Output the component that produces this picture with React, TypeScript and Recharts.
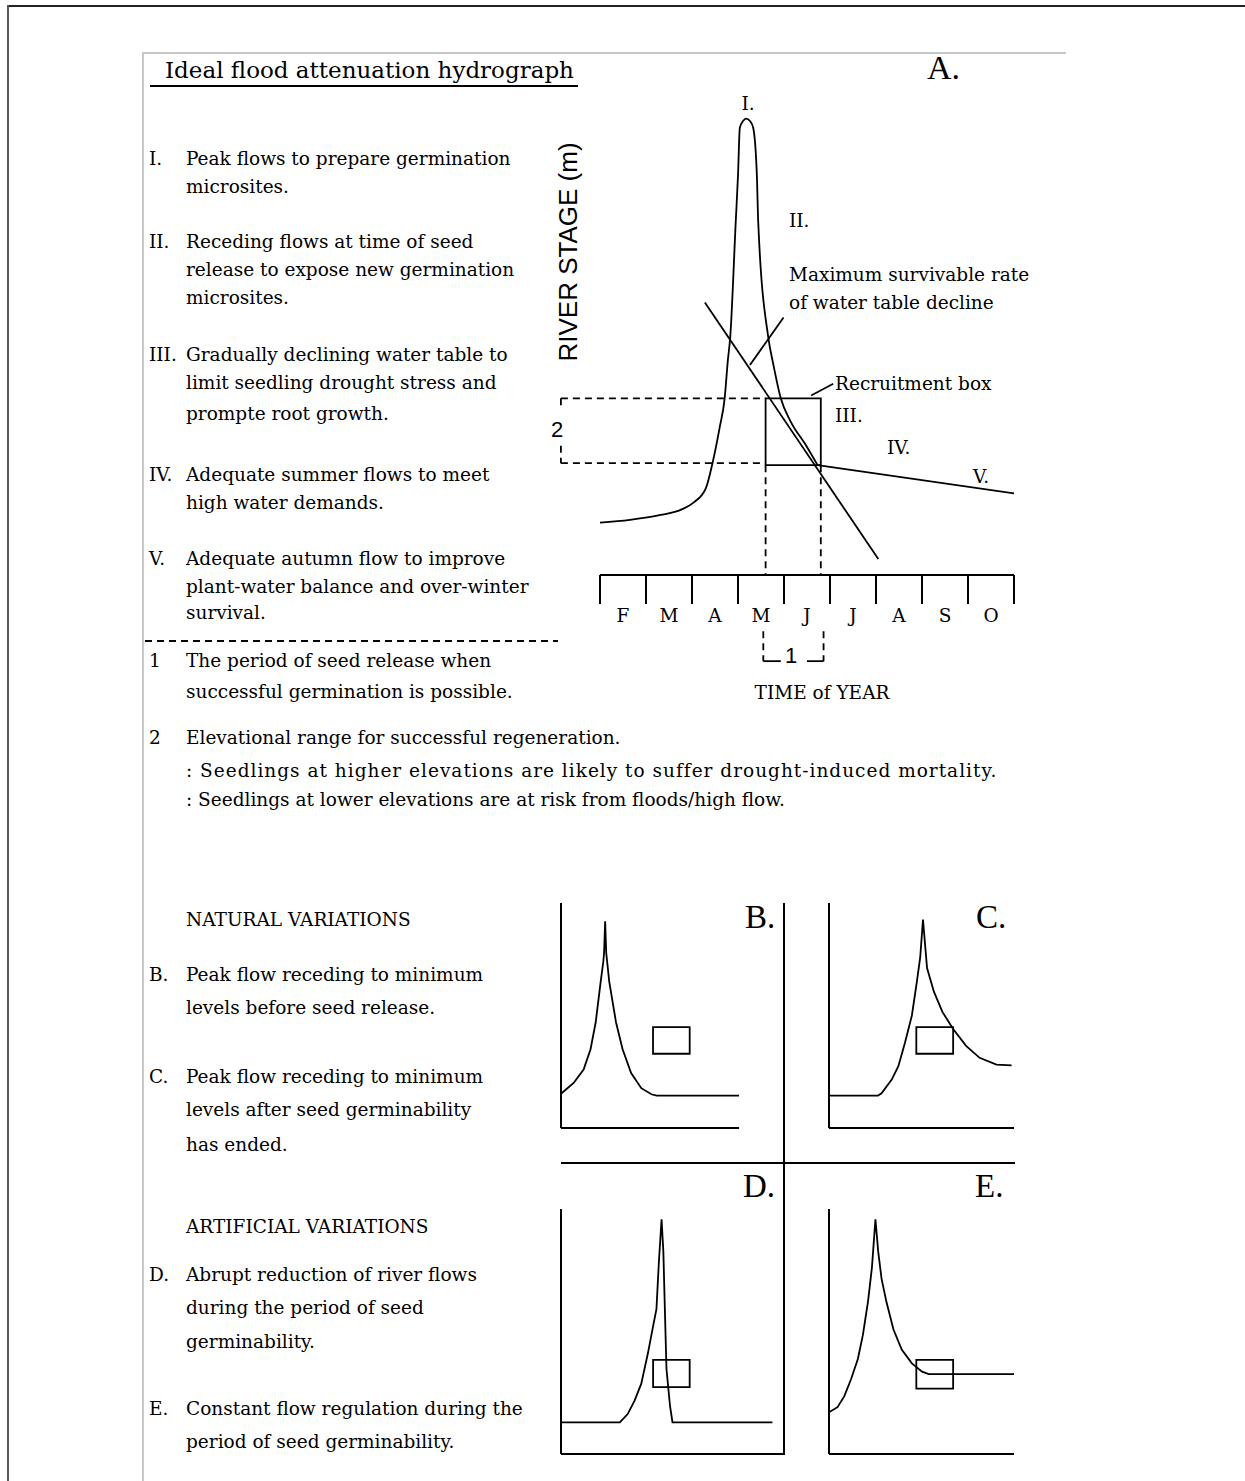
import React from 'react';
import { LineChart, Line, XAxis, YAxis, ReferenceLine, ReferenceArea } from 'recharts';

const SERIF = '"DejaVu Serif", serif';
const TIMES = '"Liberation Serif", "Times New Roman", serif';
const SANS = '"Liberation Sans", Arial, sans-serif';

// ---- panel A: x = months since start of Feb, y = river stage (arbitrary 0..10)
const months = ['F', 'M', 'A', 'M', 'J', 'J', 'A', 'S', 'O'];
const monthTicks = [0, 1, 2, 3, 4, 5, 6, 7, 8, 9];

const hydroTime = [0, 0.65, 1.27, 1.79, 2.04, 2.3, 2.45, 2.6, 2.71, 2.78, 2.83, 2.95, 3.0, 3.04, 3.11, 3.18, 3.26, 3.33, 3.41, 3.44, 3.66, 3.77, 3.93, 4.14, 4.47, 4.73];
const hydroStage = [1.08, 1.14, 1.23, 1.36, 1.5, 1.79, 2.33, 3.04, 3.65, 4.44, 4.9, 7.28, 8.26, 9.24, 9.38, 9.43, 9.38, 9.24, 8.26, 7.28, 4.9, 4.34, 3.65, 3.18, 2.69, 2.27];
const autumnTime = [4.73, 9.06];
const autumnStage = [2.27, 1.68];

const declineTime = [2.28, 6.05];
const declineStage = [5.63, 0.33];

const seedRelease = [3.6, 4.8]; // recruitment box, x
const regenRange = [2.27, 3.65]; // recruitment box, y
const guideStage = [2.31, 3.65]; // dashed guides to the stage bracket
const bracketX = -0.85;
const bracketGap = [2.67, 3.47];
const periodBracketX = [3.55, 4.86];
const periodBracketY = [-1.16, -1.78];
const periodGap = [3.93, 4.5];
const maxRatePointer = [{ x: 3.99, y: 5.32 }, { x: 3.26, y: 4.34 }];
const boxPointer = [{ x: 4.59, y: 3.71 }, { x: 5.07, y: 3.95 }];

// ---- panels B-E: x 0..10, y 0..10
const bTime = [0, 0.71, 1.27, 1.66, 1.95, 2.23, 2.38, 2.42, 2.48, 2.54, 2.71, 3.09, 3.46, 3.94, 4.51, 5.08, 5.37, 10.18];
const bStage = [1.52, 2.0, 2.6, 3.5, 4.7, 6.51, 7.41, 7.79, 9.19, 7.79, 6.51, 4.7, 3.5, 2.44, 1.77, 1.5, 1.44, 1.44];
const bBoxX = [5.17, 7.23];
const bBoxY = [3.3, 4.48];

const cTime = [0, 2.65, 2.84, 3.39, 3.75, 4.11, 4.48, 4.75, 4.93, 5.08, 5.3, 5.67, 6.13, 6.71, 7.41, 8.14, 9.05, 9.87];
const cStage = [1.44, 1.44, 1.54, 2.15, 2.75, 3.8, 5.0, 6.51, 7.58, 9.26, 7.11, 6.06, 5.16, 4.4, 3.65, 3.12, 2.82, 2.78];
const cBoxX = [4.72, 6.71];
const cBoxY = [3.3, 4.48];

const dTime = [0, 2.64, 2.99, 3.3, 3.6, 3.9, 4.13, 4.28, 4.39, 4.51, 4.59, 4.66, 4.73, 4.89, 5.0, 9.48];
const dStage = [1.29, 1.29, 1.63, 2.18, 2.87, 4.12, 5.22, 5.91, 7.85, 9.58, 8.26, 5.82, 3.47, 1.95, 1.29, 1.29];
const dBoxX = [4.13, 5.77];
const dBoxY = [2.73, 3.84];

const eTime = [0, 0.46, 0.83, 1.19, 1.56, 1.83, 2.11, 2.32, 2.51, 2.66, 2.84, 3.11, 3.48, 3.93, 4.48, 5.03, 5.39, 10];
const eStage = [1.7, 1.91, 2.36, 3.05, 3.88, 4.85, 6.23, 7.61, 9.58, 8.26, 7.16, 6.19, 5.09, 4.26, 3.7, 3.36, 3.26, 3.26];
const eBoxX = [4.72, 6.71];
const eBoxY = [2.67, 3.84];

const A_PLOT_W = 414;
const dash = '7 5';
const LW = 1.8;

function Tx({ x, y, size = 18.5, family = SERIF, center = false, children, style }: any) {
  return (
    <div
      style={{
        position: 'absolute',
        left: x,
        top: y - size * 0.75,
        lineHeight: `${size * 1.5}px`,
        fontSize: size,
        fontFamily: family,
        whiteSpace: 'nowrap',
        color: '#000',
        transform: center ? 'translateX(-50%)' : undefined,
        ...style,
      }}
    >
      {children}
    </div>
  );
}

function MonthTick(props: any) {
  const { x, y, payload } = props;
  const label = months[payload.value];
  if (label === undefined) return <g />;
  return (
    <text x={x + A_PLOT_W / months.length / 2} y={y + 16} textAnchor="middle" fontFamily={SERIF} fontSize={18.5} fill="#000">
      {label}
    </text>
  );
}

function toPoints(xs: number[], ys: number[]) {
  return xs.map((x, i) => ({ x, y: ys[i] }));
}

function seg(x1: number, y1: number, x2: number, y2: number, dashed: boolean, key: string, width = LW) {
  return (
    <ReferenceLine
      key={key}
      segment={[{ x: x1, y: y1 }, { x: x2, y: y2 }]}
      stroke="#000"
      strokeWidth={width}
      strokeDasharray={dashed ? dash : undefined}
      ifOverflow="visible"
    />
  );
}

function PanelA() {
  const hydro = toPoints(hydroTime, hydroStage);
  const autumn = toPoints(autumnTime, autumnStage);
  const decline = toPoints(declineTime, declineStage);
  return (
    <div style={{ position: 'absolute', left: 540, top: 80 }}>
      <LineChart width={500} height={610} margin={{ top: 11, right: 26, bottom: 75, left: 60 }}>
        <XAxis
          dataKey="x"
          type="number"
          domain={[0, 9]}
          allowDataOverflow
          ticks={monthTicks}
          interval={0}
          height={40}
          tickSize={29}
          tickLine={{ stroke: '#000', strokeWidth: 2 }}
          axisLine={{ stroke: '#000', strokeWidth: 2 }}
          tick={MonthTick}
        />
        <YAxis type="number" domain={[0, 10]} allowDataOverflow width={0} tick={false} tickLine={false} axisLine={{ stroke: '#000', strokeWidth: 2 }} />
        <ReferenceArea x1={seedRelease[0]} x2={seedRelease[1]} y1={regenRange[0]} y2={regenRange[1]} fill="none" fillOpacity={0} stroke="#000" strokeWidth={LW} ifOverflow="visible" />
        {seg(bracketX, guideStage[1], seedRelease[0], guideStage[1], true, 'g1')}
        {seg(bracketX, guideStage[0], seedRelease[0], guideStage[0], true, 'g2')}
        {seg(bracketX, guideStage[1], bracketX, bracketGap[1], true, 'b1')}
        {seg(bracketX, bracketGap[0], bracketX, guideStage[0], true, 'b2')}
        {seg(seedRelease[0], regenRange[0], seedRelease[0], 0, true, 'v1')}
        {seg(seedRelease[1], regenRange[0], seedRelease[1], 0, true, 'v2')}
        {seg(periodBracketX[0], periodBracketY[0], periodBracketX[0], periodBracketY[1], true, 'p1')}
        {seg(periodBracketX[1], periodBracketY[0], periodBracketX[1], periodBracketY[1], true, 'p2')}
        {seg(periodBracketX[0], periodBracketY[1], periodGap[0], periodBracketY[1], false, 'p3')}
        {seg(periodGap[1], periodBracketY[1], periodBracketX[1], periodBracketY[1], false, 'p4')}
        {seg(maxRatePointer[0].x, maxRatePointer[0].y, maxRatePointer[1].x, maxRatePointer[1].y, false, 'm1')}
        {seg(boxPointer[0].x, boxPointer[0].y, boxPointer[1].x, boxPointer[1].y, false, 'r1')}
        <Line data={decline} dataKey="y" type="linear" dot={false} stroke="#000" strokeWidth={LW} isAnimationActive={false} />
        <Line data={hydro} dataKey="y" type="monotoneX" dot={false} stroke="#000" strokeWidth={LW} isAnimationActive={false} />
        <Line data={autumn} dataKey="y" type="linear" dot={false} stroke="#000" strokeWidth={LW} isAnimationActive={false} />
      </LineChart>
    </div>
  );
}

function Mini({ time, stage, boxX, boxY, left, top, w, h }: any) {
  const data = toPoints(time, stage);
  return (
    <div style={{ position: 'absolute', left: left - 4, top: top - 4 }}>
      <LineChart width={w + 14} height={h + 8} margin={{ top: 4, right: 10, bottom: 4, left: 4 }}>
        <XAxis dataKey="x" type="number" domain={[0, 10]} allowDataOverflow hide />
        <YAxis type="number" domain={[0, 10]} allowDataOverflow hide />
        {seg(0, 0, 0, 10, false, 'ya', 2)}
        {seg(0, 0, 10, 0, false, 'xa', 2)}
        <ReferenceArea x1={boxX[0]} x2={boxX[1]} y1={boxY[0]} y2={boxY[1]} fill="none" fillOpacity={0} stroke="#000" strokeWidth={LW} ifOverflow="visible" />
        <Line data={data} dataKey="y" type="linear" dot={false} stroke="#000" strokeWidth={LW} isAnimationActive={false} />
      </LineChart>
    </div>
  );
}

const leftNotes: [number, string, string, number?][] = [
  [159, 'I.', 'Peak flows to prepare germination'],
  [187, '', 'microsites.'],
  [242, 'II.', 'Receding flows at time of seed'],
  [270, '', 'release to expose new germination'],
  [298, '', 'microsites.'],
  [355, 'III.', 'Gradually declining water table to'],
  [383, '', 'limit seedling drought stress and'],
  [414, '', 'prompte root growth.'],
  [475, 'IV.', 'Adequate summer flows to meet'],
  [503, '', 'high water demands.'],
  [559, 'V.', 'Adequate autumn flow to improve'],
  [587, '', 'plant-water balance and over-winter'],
  [613, '', 'survival.'],
  [661, '1', 'The period of seed release when'],
  [692, '', 'successful germination is possible.'],
  [738, '2', 'Elevational range for successful regeneration.'],
  [771, '', ': Seedlings at higher elevations are likely to suffer drought-induced mortality.', 1],
  [800, '', ': Seedlings at lower elevations are at risk from floods/high flow.'],
  [920, '', 'NATURAL VARIATIONS'],
  [975, 'B.', 'Peak flow receding to minimum'],
  [1008, '', 'levels before seed release.'],
  [1077, 'C.', 'Peak flow receding to minimum'],
  [1110, '', 'levels after seed germinability'],
  [1145, '', 'has ended.'],
  [1227, '', 'ARTIFICIAL VARIATIONS'],
  [1275, 'D.', 'Abrupt reduction of river flows'],
  [1308, '', 'during the period of seed'],
  [1342, '', 'germinability.'],
  [1409, 'E.', 'Constant flow regulation during the'],
  [1442, '', 'period of seed germinability.'],
];

export default function App() {
  return (
    <div style={{ position: 'absolute', left: 0, top: 0, width: 1245, height: 1481, background: '#fff', overflow: 'hidden' }}>
      {/* frame */}
      <div style={{ position: 'absolute', left: 7, top: 5, width: 1238, height: 2, background: '#222' }} />
      <div style={{ position: 'absolute', left: 7, top: 5, width: 2, height: 1476, background: '#555' }} />
      <div style={{ position: 'absolute', left: 143, top: 52, width: 923, height: 2, background: '#c8c8c8' }} />
      <div style={{ position: 'absolute', left: 142, top: 52, width: 2, height: 1429, background: '#c8c8c8' }} />

      {/* title */}
      <Tx x={165} y={70} size={23}>Ideal flood attenuation hydrograph</Tx>
      <div style={{ position: 'absolute', left: 150, top: 85, width: 428, height: 2, background: '#000' }} />

      {leftNotes.map(([y, tag, text, spacing], i) => (
        <React.Fragment key={i}>
          {tag && <Tx x={149} y={y}>{tag}</Tx>}
          <Tx x={186} y={y} style={spacing ? { letterSpacing: spacing } : undefined}>{text}</Tx>
        </React.Fragment>
      ))}
      <svg style={{ position: 'absolute', left: 0, top: 0 }} width={1245} height={1481} pointerEvents="none">
        <line x1={145} y1={641} x2={558} y2={641} stroke="#000" strokeWidth={LW} strokeDasharray={dash} />
        <line x1={784} y1={903} x2={784} y2={1455} stroke="#000" strokeWidth={2} />
        <line x1={561} y1={1163} x2={1015} y2={1163} stroke="#000" strokeWidth={2} />
      </svg>

      {/* panel A */}
      <PanelA />
      <Tx x={927} y={67} size={34} family={TIMES}>A.</Tx>
      <Tx x={748} y={104} center>I.</Tx>
      <Tx x={789} y={221}>II.</Tx>
      <Tx x={789} y={275}>Maximum survivable rate</Tx>
      <Tx x={789} y={303}>of water table decline</Tx>
      <Tx x={835} y={384}>Recruitment box</Tx>
      <Tx x={835} y={416}>III.</Tx>
      <Tx x={887} y={448}>IV.</Tx>
      <Tx x={973} y={477}>V.</Tx>
      <Tx x={557} y={429} size={22} family={SANS} center>2</Tx>
      <Tx x={791} y={655} size={22} family={SANS} center>1</Tx>
      <Tx x={822} y={693} center>TIME of YEAR</Tx>
      <div
        style={{
          position: 'absolute',
          left: 568,
          top: 252,
          transform: 'translate(-50%, -50%) rotate(-90deg)',
          fontFamily: SANS,
          fontSize: 26,
          whiteSpace: 'nowrap',
          lineHeight: '30px',
        }}
      >
        RIVER STAGE (m)
      </div>

      {/* panels B-E */}
      <Mini time={bTime} stage={bStage} boxX={bBoxX} boxY={bBoxY} left={561} top={903} w={178} h={225} />
      <Mini time={cTime} stage={cStage} boxX={cBoxX} boxY={cBoxY} left={829} top={903} w={185} h={225} />
      <Mini time={dTime} stage={dStage} boxX={dBoxX} boxY={dBoxY} left={561} top={1209} w={223} h={245} />
      <Mini time={eTime} stage={eStage} boxX={eBoxX} boxY={eBoxY} left={829} top={1209} w={185} h={245} />
      <Tx x={745} y={918} size={33} family={TIMES}>B.</Tx>
      <Tx x={976} y={918} size={33} family={TIMES}>C.</Tx>
      <Tx x={743} y={1187} size={33} family={TIMES}>D.</Tx>
      <Tx x={975} y={1187} size={33} family={TIMES}>E.</Tx>
    </div>
  );
}
